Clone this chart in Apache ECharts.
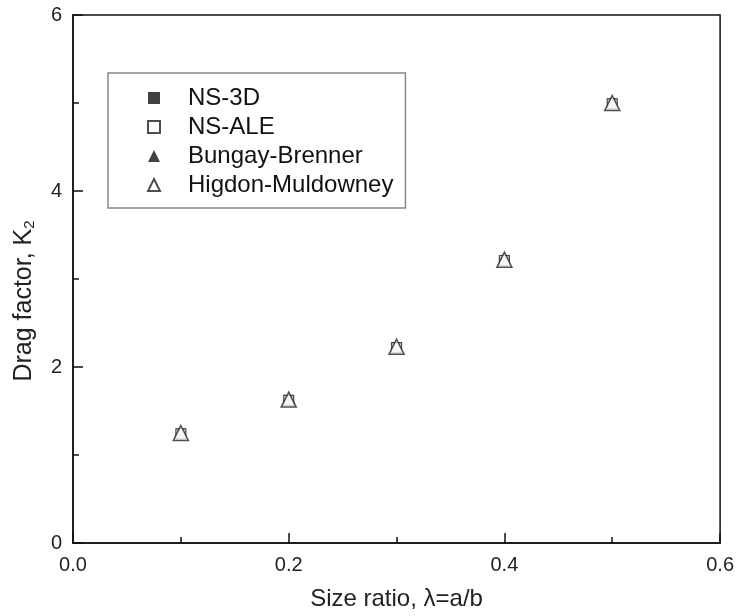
<!DOCTYPE html>
<html><head><meta charset="utf-8">
<script src="https://cdn.jsdelivr.net/npm/echarts@6/dist/echarts.min.js"></script>
<style>html,body{margin:0;padding:0;background:#fff}#c{width:737px;height:616px}</style>
</head><body><div id="c"></div>
<script>
const sizeRatio = [0.1, 0.2, 0.3, 0.4, 0.5];
const ns3d = [1.25, 1.63, 2.23, 3.22, 5.0];
const nsAle = [1.24, 1.62, 2.22, 3.21, 4.99];
const bungay = [1.25, 1.63, 2.23, 3.22, 5.0];
const higdon = [1.25, 1.63, 2.23, 3.22, 5.0];
const seriesNames = ['NS-3D', 'NS-ALE', 'Bungay-Brenner', 'Higdon-Muldowney'];
const xTicks = [0, 0.2, 0.4, 0.6];
const yTicks = [0, 2, 4, 6];

const font = 'Liberation Sans, Arial, sans-serif';
const pts = v => sizeRatio.map((x, i) => [x, v[i]]);
const chart = echarts.init(document.getElementById('c'));
chart.setOption({
  animation: false,
  backgroundColor: '#fff',
  grid: { left: 73, right: 14, top: 15, bottom: 72, show: true, borderColor: '#111', borderWidth: 1.5 },
  legend: {
    orient: 'vertical', left: 108, top: 73,
    padding: [13, 12, 11, 39], itemGap: 5,
    borderColor: '#888', borderWidth: 1.5,
    itemWidth: 12, itemHeight: 12,
    textStyle: { fontFamily: font, fontSize: 24, lineHeight: 23, color: '#111', padding: [0, 0, 0, 23] },
    data: [
      { name: seriesNames[0], icon: 'rect' },
      { name: seriesNames[1], icon: 'rect' },
      { name: seriesNames[2], icon: 'triangle' },
      { name: seriesNames[3], icon: 'triangle' }
    ]
  },
  xAxis: {
    type: 'value', min: 0, max: 0.6, interval: 0.2,
    name: 'Size ratio, λ=a/b', nameLocation: 'middle', nameGap: 44,
    nameTextStyle: { fontFamily: font, fontSize: 24, color: '#222' },
    axisLine: { lineStyle: { color: '#111', width: 1.5 } },
    axisTick: { inside: true, length: 10, lineStyle: { color: '#111', width: 1.5 } },
    minorTick: { show: true, splitNumber: 2, length: 6, lineStyle: { color: '#111', width: 1.5 } },
    splitLine: { show: false },
    axisLabel: { fontFamily: font, fontSize: 20, color: '#222', margin: 12,
      formatter: v => xTicks.some(t => Math.abs(t - v) < 1e-9) ? v.toFixed(1) : '' }
  },
  yAxis: {
    type: 'value', min: 0, max: 6, interval: 2,
    name: '{a|Drag factor, K}{s|2}', nameLocation: 'middle', nameGap: 36, nameRotate: 90,
    nameTextStyle: { padding: [0, 44, 0, 0], rich: {
      a: { fontFamily: font, fontSize: 25, color: '#222' },
      s: { fontFamily: font, fontSize: 15, color: '#222', verticalAlign: 'bottom', padding: [10, 0, 0, 0] } } },
    axisLine: { lineStyle: { color: '#111', width: 1.5 } },
    axisTick: { inside: true, length: 10, lineStyle: { color: '#111', width: 1.5 } },
    minorTick: { show: true, splitNumber: 2, length: 6, lineStyle: { color: '#111', width: 1.5 } },
    splitLine: { show: false },
    axisLabel: { fontFamily: font, fontSize: 20, color: '#222', margin: 11,
      formatter: v => yTicks.includes(v) ? String(v) : '' }
  },
  series: [
    { name: seriesNames[0], type: 'scatter', data: pts(ns3d), symbol: 'rect', symbolSize: 9,
      itemStyle: { color: '#111' }, z: 2 },
    { name: seriesNames[2], type: 'scatter', data: pts(bungay), symbol: 'triangle', symbolSize: 12,
      itemStyle: { color: '#111' }, z: 3 },
    { name: seriesNames[1], type: 'scatter', data: pts(nsAle), symbol: 'rect', symbolSize: 10,
      itemStyle: { color: '#fff', borderColor: '#222', borderWidth: 1.2 }, z: 4 },
    { name: seriesNames[3], type: 'scatter', data: pts(higdon), symbol: 'triangle', symbolSize: 15,
      itemStyle: { color: '#fff', borderColor: '#222', borderWidth: 1.5 }, z: 5 }
  ]
});
</script></body></html>
